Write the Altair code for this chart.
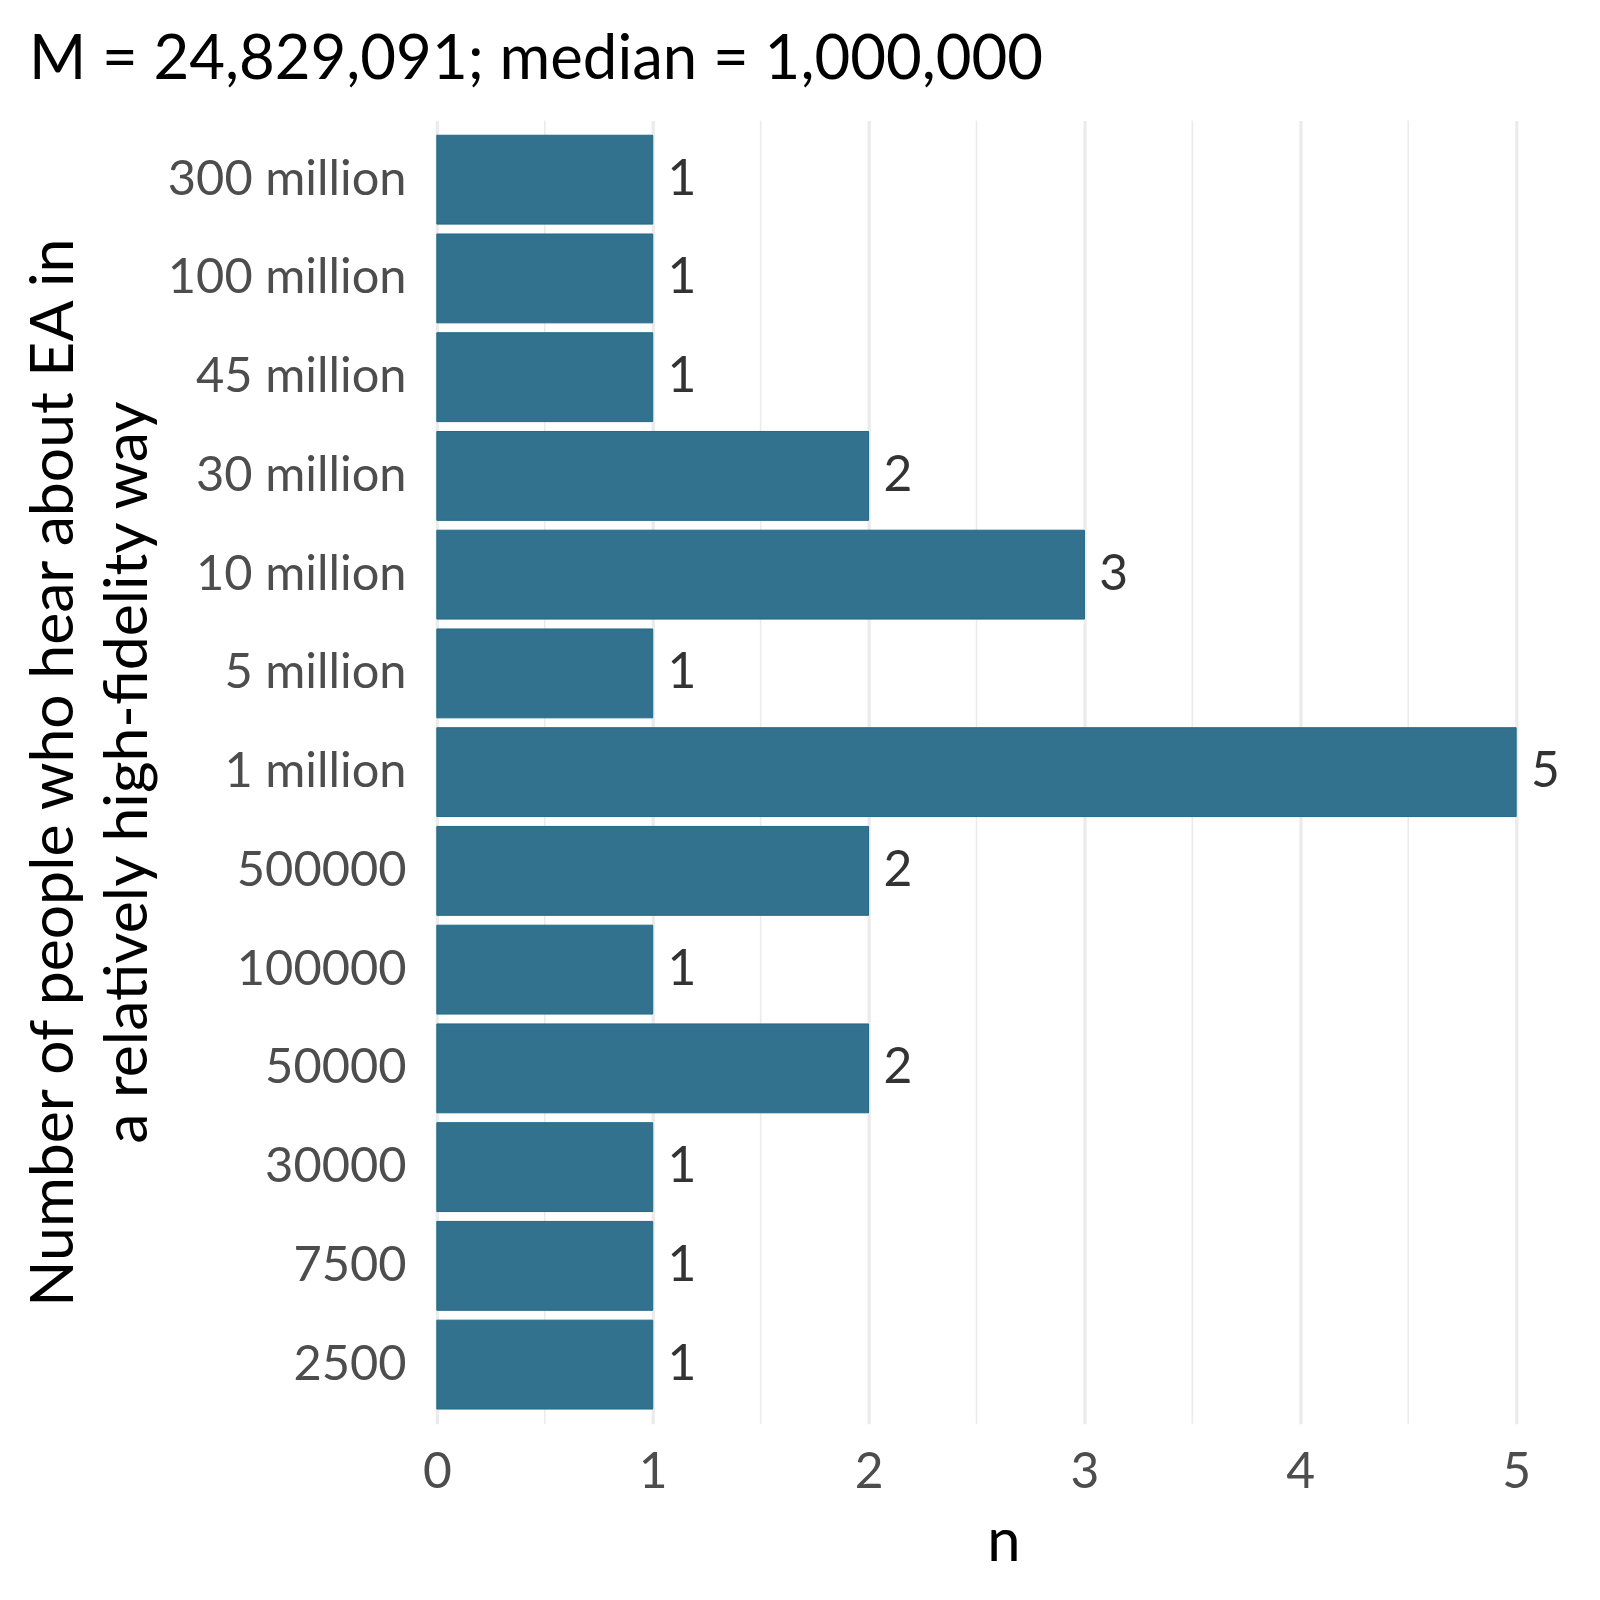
import altair as alt
import pandas as pd

categories = ["300 million", "100 million", "45 million", "30 million", "10 million",
              "5 million", "1 million", "500000", "100000", "50000", "30000", "7500", "2500"]
counts = [1, 1, 1, 2, 3, 1, 5, 2, 1, 2, 1, 1, 1]
minor_breaks = [0.5, 1.5, 2.5, 3.5, 4.5]
major_breaks = [0, 1, 2, 3, 4, 5]

FONT = "Lato"
df = pd.DataFrame({"cat": categories, "n": counts})
minor_df = pd.DataFrame({"v": minor_breaks})

W, H = 1139, 1310

xscale = alt.Scale(domain=[0, 5.25], nice=False, zero=True)
yscale = alt.Scale(domain=categories, paddingInner=0.1, paddingOuter=0.15)

minor = alt.Chart(minor_df).mark_rule(color="#EBEBEB", strokeWidth=1.6).encode(
    x=alt.X("v:Q", scale=xscale)
)

bars = alt.Chart(df).mark_bar(color="#32728F", stroke="#1f6887", strokeWidth=1).encode(
    x=alt.X("n:Q", scale=xscale, title="n",
            axis=alt.Axis(values=major_breaks, format="d", grid=True, gridColor="#EBEBEB",
                          gridWidth=3.2, domain=False, ticks=False, labelFontSize=50,
                          labelColor="#4D4D4D", labelFont=FONT, labelPadding=24,
                          labelFlush=False, labelOverlap=False,
                          titleFont=FONT, titleFontSize=60, titleFontWeight="normal",
                          titleColor="#000000", titleBaseline="alphabetic", titleY=137)),
    y=alt.Y("cat:N", scale=yscale, sort=categories,
            title=["Number of people who hear about EA in", "a relatively high-fidelity way"],
            axis=alt.Axis(grid=False, domain=False, ticks=False, labelFontSize=49,
                          labelColor="#4D4D4D", labelFont=FONT, labelPadding=31,
                          labelLimit=0,
                          titleFont=FONT, titleFontSize=61, titleFontWeight="normal",
                          titleColor="#000000", titleAngle=-90, titleAlign="center",
                          titleBaseline="alphabetic", titleX=-366, titleLineHeight=74)),
)

labels = alt.Chart(df).mark_text(align="left", baseline="middle", dx=15, fontSize=50,
                                 font=FONT, color="#333333").encode(
    x=alt.X("n:Q", scale=xscale),
    y=alt.Y("cat:N", scale=yscale, sort=categories),
    text=alt.Text("n:Q"),
)

chart = alt.layer(minor, bars, labels).properties(
    width=W, height=H,
    background="white",
    title=alt.TitleParams("M = 24,829,091; median = 1,000,000", anchor="start", frame="group",
                          dx=-410, dy=64, offset=43, baseline="alphabetic", fontSize=62,
                          font=FONT, fontWeight="normal", color="#000000"),
    autosize=alt.AutoSizeParams(type="none"),
    padding={"left": 431, "top": 109, "right": 22, "bottom": 165},
).configure_view(stroke=None)

chart.save("out.html", embed_options={"renderer": "svg", "actions": False})
